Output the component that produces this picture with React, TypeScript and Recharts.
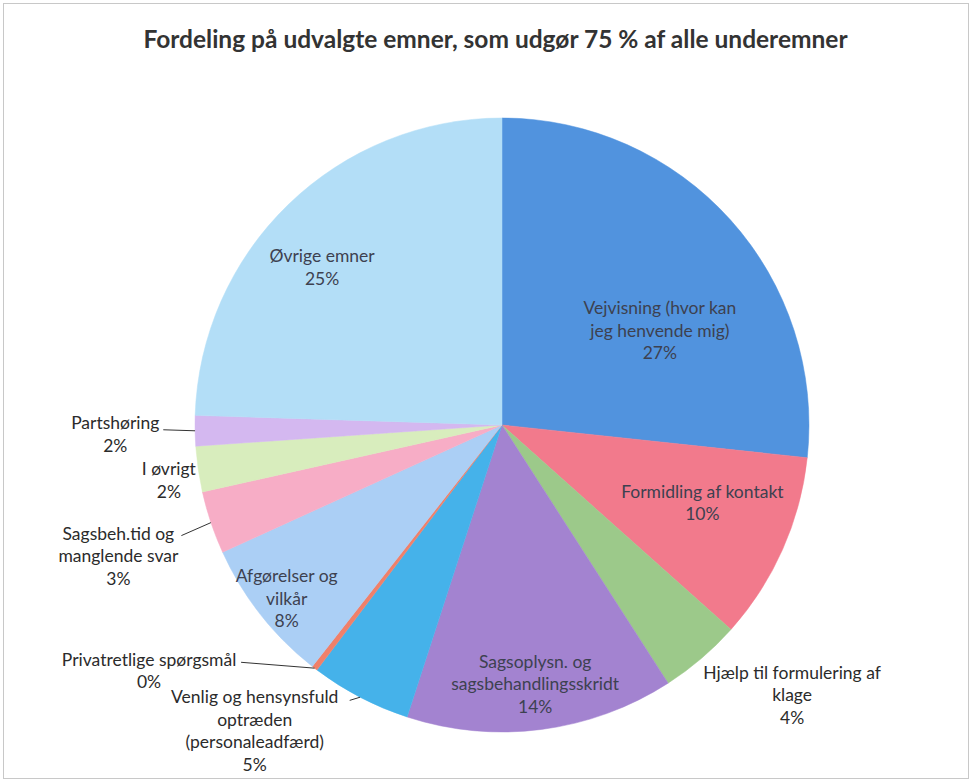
import React from "react";
import { PieChart, Pie, Cell } from "recharts";

const names = [
  "Vejvisning (hvor kan|jeg henvende mig)",
  "Formidling af kontakt",
  "Hjælp til formulering af|klage",
  "Sagsoplysn. og|sagsbehandlingsskridt",
  "Venlig og hensynsfuld|optræden|(personaleadfærd)",
  "Privatretlige spørgsmål",
  "Afgørelser og|vilkår",
  "Sagsbeh.tid og|manglende svar",
  "I øvrigt",
  "Partshøring",
  "Øvrige emner",
];
const shares = [26.7, 9.9, 4.3, 14.1, 5.3, 0.3, 7.6, 3.3, 2.4, 1.6, 24.5];
const colors = [
  "#5193de", "#f27a8c", "#9cc98a", "#a383d0", "#45b2ea", "#f0806a",
  "#abcff5", "#f7adc6", "#d8edbd", "#d4b8f0", "#b3def7",
];

// label placement: angle clockwise from 12 o'clock, distance as share of radius
// lead = start of the leader line, relative to the label centre
const labelPlace = [
  { angle: 59, dist: 0.6 },
  { angle: 111.2, dist: 0.7 },
  { angle: 132.9, dist: 1.29 },
  { angle: 172.7, dist: 0.85 },
  { angle: 219, dist: 1.28, lead: [95, -30] },
  { angle: 235.2, dist: 1.4, lead: [92, -8] },
  { angle: 231.2, dist: 0.9 },
  { angle: 251.2, dist: 1.32, lead: [63, -20] },
  { angle: 260.6, dist: 1.1 },
  { angle: 268.7, dist: 1.26, lead: [48, -4] },
  { angle: 311.3, dist: 0.78 },
];

const data = names.map((n, i) => ({ name: n, value: shares[i] }));
const RAD = Math.PI / 180;
const LH = 22.5;

const renderLabel = (p: any) => {
  const { cx, cy, outerRadius, midAngle, index, value } = p;
  const pl = labelPlace[index];
  const x = cx + Math.sin(pl.angle * RAD) * outerRadius * pl.dist;
  const y = cy - Math.cos(pl.angle * RAD) * outerRadius * pl.dist;
  const lines = [...names[index].split("|"), `${Math.round(value)}%`];
  const top = y - ((lines.length - 1) * LH) / 2;
  const inside = pl.dist < 1;
  let leader = null;
  if (pl.lead) {
    const ex = cx + Math.cos(-midAngle * RAD) * outerRadius;
    const ey = cy + Math.sin(-midAngle * RAD) * outerRadius;
    leader = (
      <line x1={x + pl.lead[0]} y1={y + pl.lead[1]} x2={ex} y2={ey} stroke="#333" strokeWidth={1} />
    );
  }
  return (
    <g key={`lbl-${index}`}>
      {leader}
      {lines.map((t, k) => (
        <text
          key={k}
          x={x}
          y={top + k * LH}
          textAnchor="middle"
          dominantBaseline="central"
          fontSize={17.5}
          fontFamily="Lato, 'Open Sans', sans-serif"
          fill={inside ? "#3d4150" : "#2b2b2b"}
        >
          {t}
        </text>
      ))}
    </g>
  );
};

export default function App() {
  return (
    <div
      style={{
        position: "absolute",
        left: 0,
        top: 0,
        width: 972,
        height: 784,
        background: "#fff",
        overflow: "hidden",
      }}
    >
      <div
        style={{
          position: "absolute",
          left: 3,
          top: 3,
          width: 964,
          height: 774,
          border: "1px solid #c8c8c8",
        }}
      />
      <div
        style={{
          position: "absolute",
          left: 0,
          top: 24,
          width: 991,
          textAlign: "center",
          fontFamily: "Lato, 'Open Sans', sans-serif",
          fontWeight: 700,
          fontSize: 24.5,
          color: "#333",
          whiteSpace: "nowrap",
        }}
      >
        Fordeling på udvalgte emner, som udgør 75 % af alle underemner
      </div>
      <PieChart
        width={972}
        height={784}
        margin={{ top: 0, right: 0, bottom: 0, left: 0 }}
        style={{ position: "absolute", left: 0, top: 0 }}
      >
        <Pie
          data={data}
          dataKey="value"
          nameKey="name"
          cx={502}
          cy={425}
          outerRadius={307}
          startAngle={90}
          endAngle={-270}
          label={renderLabel}
          labelLine={false}
          isAnimationActive={false}
        >
          {data.map((d, i) => (
            <Cell key={d.name} fill={colors[i]} stroke={colors[i]} strokeWidth={0.5} />
          ))}
        </Pie>
      </PieChart>
    </div>
  );
}
